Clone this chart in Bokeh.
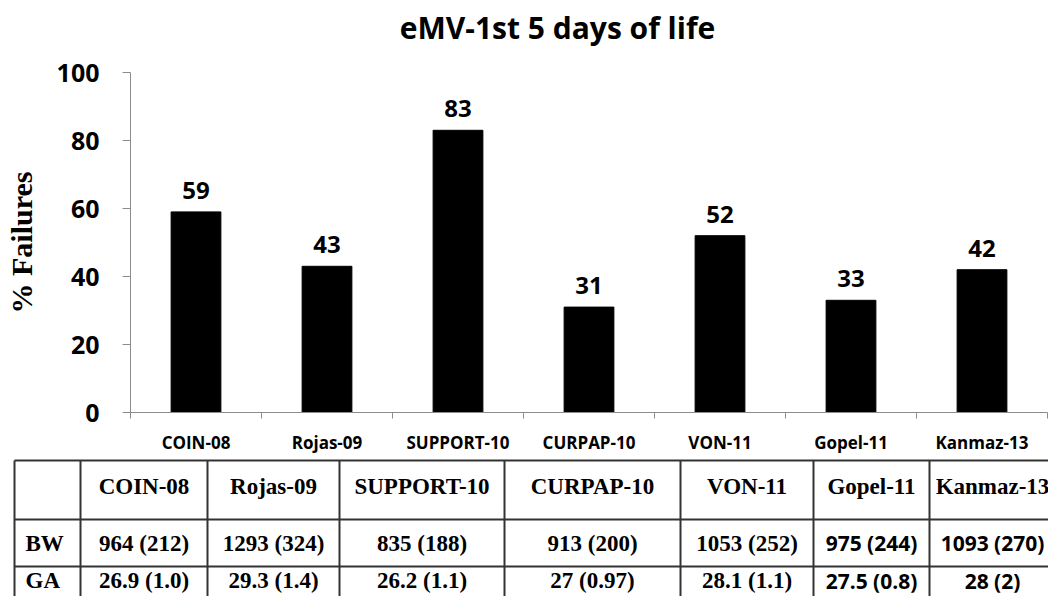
from bokeh.plotting import figure
from bokeh.models import Range1d, FixedTicker, ColumnDataSource
from bokeh.embed import file_html
from bokeh.resources import INLINE
from bokeh.core.properties import value

# ---------------- data ----------------
studies = ["COIN-08", "Rojas-09", "SUPPORT-10", "CURPAP-10", "VON-11", "Gopel-11", "Kanmaz-13"]
failures = [59, 43, 83, 31, 52, 33, 42]
bw_values = ["964 (212)", "1293 (324)", "835 (188)", "913 (200)", "1053 (252)", "975 (244)", "1093 (270)"]
ga_values = ["26.9 (1.0)", "29.3 (1.4)", "26.2 (1.1)", "27 (0.97)", "28.1 (1.1)", "27.5 (0.8)", "28 (2)"]
row_labels = ["BW", "GA"]
y_ticks = [0, 20, 40, 60, 80, 100]
chart_title = "eMV-1st 5 days of life"
y_label = "% Failures"

# ---------------- styles / layout ----------------
SANS = "Open Sans"
SERIF = "Liberation Serif"
AXIS_GRAY = "#8c8c8c"
W = 1048
TITLE_H = 50
CHART_H = 408
TABLE_H = 138
sans_cells = {("BW", "Gopel-11"), ("BW", "Kanmaz-13"), ("GA", "Gopel-11"), ("GA", "Kanmaz-13")}

n = len(studies)
pos = [i + 0.5 for i in range(n)]          # category centres on an index axis
edges = list(range(n + 1))                  # category boundaries


def blank(height):
    f = figure(width=W, height=height, x_range=Range1d(0, W), y_range=Range1d(height, 0),
               output_backend="svg", toolbar_location=None, x_axis_location=None,
               y_axis_location=None, min_border=0)
    f.outline_line_color = None
    f.grid.visible = False
    return f


# ---------------- title strip ----------------
tt = blank(TITLE_H)
tt.text(x=[557], y=[27], text=[chart_title], text_align="center", text_baseline="middle",
        text_font=value(SANS), text_font_style="bold", text_font_size="30px", text_color="black")

# ---------------- chart ----------------
p = figure(width=W, height=CHART_H, x_range=Range1d(0, n), y_range=Range1d(0, 100),
           output_backend="svg", toolbar_location=None,
           min_border_left=130, min_border_right=1, min_border_top=22, min_border_bottom=46)
p.outline_line_color = None
p.grid.visible = False

src = ColumnDataSource(dict(x=pos, top=failures, lbl=[str(v) for v in failures]))
p.vbar(x="x", top="top", width=0.38, source=src, fill_color="black", line_color="black")
p.text(x="x", y="top", text="lbl", source=src, text_align="center", text_baseline="bottom",
       y_offset=-13, text_font=value(SANS), text_font_style="bold", text_font_size="24px",
       text_color="black")

# y axis
yax = p.yaxis[0]
yax.ticker = FixedTicker(ticks=y_ticks)
yax.major_label_text_font = SANS
yax.major_label_text_font_style = "bold"
yax.major_label_text_font_size = "25px"
yax.major_label_text_color = "black"
yax.major_label_standoff = 23
yax.major_tick_out = 8
yax.major_tick_in = 0
yax.minor_tick_line_color = None
yax.axis_line_color = AXIS_GRAY
yax.major_tick_line_color = AXIS_GRAY
yax.axis_label = y_label
yax.axis_label_text_font = SERIF
yax.axis_label_text_font_style = "bold"
yax.axis_label_text_font_size = "30px"
yax.axis_label_text_color = "black"
yax.axis_label_standoff = 16

# x axis: labels at category centres, minor ticks on the category boundaries
xax = p.xaxis[0]
xax.ticker = FixedTicker(ticks=pos, minor_ticks=edges)
xax.major_label_overrides = {x: s for x, s in zip(pos, studies)}
xax.major_tick_line_color = None
xax.major_tick_out = 0
xax.major_tick_in = 0
xax.minor_tick_out = 6
xax.minor_tick_in = 0
xax.minor_tick_line_color = AXIS_GRAY
xax.axis_line_color = AXIS_GRAY
xax.major_label_standoff = 12
xax.major_label_text_font = SANS
xax.major_label_text_font_style = "bold"
xax.major_label_text_font_size = "17px"
xax.major_label_text_color = "black"

# ---------------- table ----------------
COL_W = [66, 127, 132, 165, 176, 133, 116, 126]
ROW_H = [59, 47, 28]
X0, Y0 = 14, 2
col_edges = [X0 + sum(COL_W[:i]) for i in range(len(COL_W) + 1)]
row_edges = [Y0 + sum(ROW_H[:i]) for i in range(len(ROW_H) + 1)]

t = blank(TABLE_H)
LINE = "#333333"
t.segment(x0=[col_edges[0]] * 3, x1=[col_edges[-1]] * 3, y0=row_edges[:3], y1=row_edges[:3],
          line_color=LINE, line_width=2)
t.segment(x0=col_edges, x1=col_edges, y0=[row_edges[0]] * len(col_edges),
          y1=[TABLE_H + 5] * len(col_edges), line_color=LINE, line_width=2)

centers = [(col_edges[i + 1] + col_edges[i + 2]) / 2 for i in range(n)]
# header
t.text(x=centers, y=[(row_edges[0] + row_edges[1]) / 2 - 4] * n, text=studies,
       text_align="center", text_baseline="middle", text_font=value(SERIF),
       text_font_style="bold", text_font_size="23px", text_color="black")
# body
for r, (rlab, vals) in enumerate(zip(row_labels, [bw_values, ga_values])):
    cy = (row_edges[r + 1] + row_edges[r + 2]) / 2
    t.text(x=[col_edges[0] + 11], y=[cy], text=[rlab], text_align="left", text_baseline="middle",
           text_font=value(SERIF), text_font_style="bold", text_font_size="23px", text_color="black")
    serif_x, serif_t, sans_x, sans_t = [], [], [], []
    for s, v, cx in zip(studies, vals, centers):
        if (rlab, s) in sans_cells:
            sans_x.append(cx); sans_t.append(v)
        else:
            serif_x.append(cx); serif_t.append(v)
    t.text(x=serif_x, y=[cy] * len(serif_x), text=serif_t, text_align="center",
           text_baseline="middle", text_font=value(SERIF), text_font_style="bold",
           text_font_size="23px", text_color="black")
    t.text(x=sans_x, y=[cy] * len(sans_x), text=sans_t, text_align="center",
           text_baseline="middle", text_font=value(SANS), text_font_style="bold",
           text_font_size="21px", text_color="black")

open("out.html", "w").write(file_html([tt, p, t], INLINE))
